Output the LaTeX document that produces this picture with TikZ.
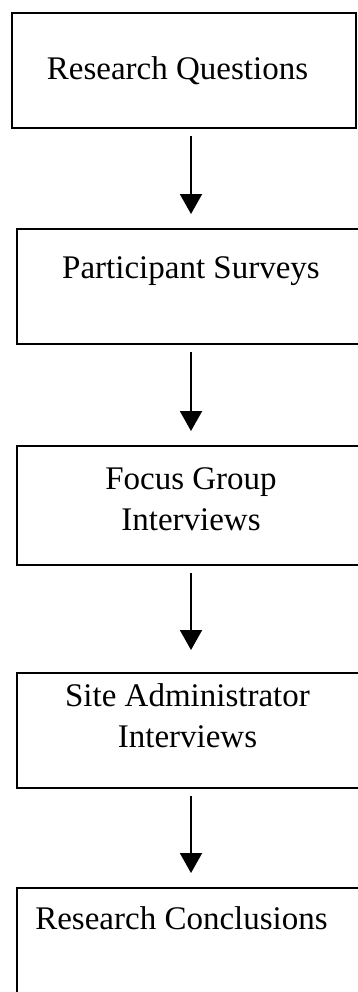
\documentclass[tikz,border=0pt]{standalone}
\usepackage{fontspec}
\setmainfont{Liberation Serif}
\usetikzlibrary{arrows.meta, positioning}

\begin{document}
\begin{tikzpicture}[
  x=0.5pt, y=-0.5pt,
  stagebox/.style={draw=black, line width=1pt, minimum width=174pt,
    minimum height=57.5pt, inner sep=0pt},
  stagetext/.style={font=\fontsize{16.5}{20.5}\selectfont, align=center, inner sep=0pt},
  arr/.style={-{Triangle[width=11pt,length=10pt]}, line width=1pt,
    shorten <=3.5pt, shorten >=7pt},
]
\useasboundingbox (0,0) rectangle (358,992);

\node[stagebox, minimum width=172pt] (questions) at (184,70.5) {};
\node[stagebox, below=49.5pt of questions, xshift=3.5pt] (surveys) {};
\node[stagebox, below=50pt of surveys, minimum height=59.5pt] (focus) {};
\node[stagebox, below=53pt of focus] (admin) {};
\node[stagebox, below=49pt of admin, minimum height=150pt] (conclusions) {};

% Box texts
\node[stagetext, xshift=-3.25pt] (questions-t) at (questions) {Research Questions};
\node[stagetext, yshift=7.5pt] (surveys-t) at (surveys) {Participant Surveys};
\node[stagetext, yshift=3.25pt] (focus-t) at (focus) {Focus Group\\Interviews};
\node[stagetext, yshift=7.25pt, xshift=-1.75pt] (admin-t) at (admin) {Site Administrator\\Interviews};
\node[stagetext, yshift=-15.75pt, xshift=-4.75pt] (conclusions-t) at (conclusions.north) {Research Conclusions};

\draw[arr] (questions.south -| surveys) -- (surveys);
\draw[arr] (surveys) -- (focus);
\draw[arr, shorten >=11pt] (focus) -- (admin);
\draw[arr] (admin) -- (conclusions);

\end{tikzpicture}
\end{document}
